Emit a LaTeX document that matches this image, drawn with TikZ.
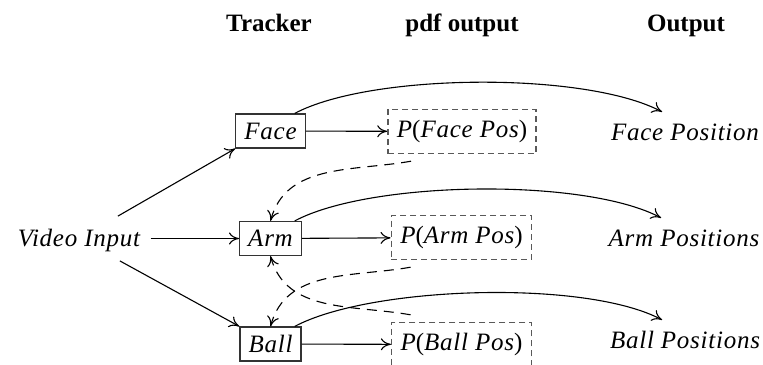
\documentclass[tikz,border=0pt]{standalone}
\usepackage{fontspec}
\setmainfont{Liberation Serif}
\newfontfamily\varfont{Liberation Serif}[LetterSpace=3]
\usetikzlibrary{arrows.meta}

\begin{document}
\begin{tikzpicture}[x=0.5pt,y=0.5pt,
  lbl/.style={font=\fontsize{12.5}{15}\selectfont\varfont\itshape,
    text height=8.2pt, text depth=0pt, inner xsep=4.3pt, inner ysep=4.4pt},
  trk/.style={lbl, draw=black!80, line width=0.6pt},
  pdfbox/.style={lbl, draw=black!65, line width=0.7pt, dash pattern=on 3pt off 2pt,
    text height=8.5pt, text depth=2.5pt, inner ysep=5.5pt, inner xsep=4.5pt},
  outlbl/.style={lbl, inner ysep=6pt},
  hdr/.style={font=\fontsize{12.5}{15}\selectfont\bfseries, anchor=base, inner sep=0pt},
  conn/.style={-{To[length=5pt,width=6pt]}, line width=0.55pt},
  fb/.style={conn, dash pattern=on 5pt off 3.5pt},
]
\clip (0,0) rectangle (763,-364);

% column headings
\node[hdr] (htrk) at (269,-31) {Tracker};
\node[hdr] (hpdf) at (462,-31) {pdf output};
\node[hdr] (hout) at (686,-31) {Output};

% input
\node[lbl, inner xsep=5pt, inner ysep=6.9pt] (vin) at (79,-238.5) {Video Input};

% trackers
\node[trk] (face) at (270.5,-131) {Face};
\node[trk] (arm)  at (270.5,-238.5) {Arm};
\node[trk] (ball) at (270.5,-344) {Ball};

% probability densities
\node[pdfbox] (pface) at (462,-131.5) {P{\upshape(}Face Pos{\upshape)}};
\node[pdfbox] (parm)  at (461.5,-237.5) {P{\upshape(}Arm Pos{\upshape)}};
\node[pdfbox] (pball) at (461.5,-344.5) {P{\upshape(}Ball Pos{\upshape)}};

% outputs
\node[outlbl] (fout) at (685,-132.5) {Face Position};
\node[outlbl] (aout) at (684,-238.5) {Arm Positions};
\node[outlbl] (bout) at (685,-340.5) {Ball Positions};

% input to trackers
\draw[conn] (vin) -- (face.south west);
\draw[conn] (vin) -- (arm);
\draw[conn] (vin) -- (ball.north west);

% trackers to densities
\draw[conn] (face) -- (pface);
\draw[conn] (arm) -- (parm);
\draw[conn] (ball) -- (pball);

% trackers to outputs
\draw[conn] (face.36) to[out=28,in=152,looseness=0.6] (fout.138);
\draw[conn] (arm.36)  to[out=28,in=152,looseness=0.6] (aout.138);
\draw[conn] (ball.36) to[out=28,in=152,looseness=0.6] (bout.138);

% feedback between trackers
\draw[fb] ([xshift=-25.5pt,yshift=-3.5pt]pface.south) to[out=190,in=75] (arm.north);
\draw[fb] ([xshift=-25.5pt,yshift=-3.5pt]parm.south) to[out=190,in=75] (ball.north);
\draw[fb] ([xshift=-25.5pt,yshift=3.5pt]pball.north) to[out=170,in=-75] (arm.south);
\end{tikzpicture}
\end{document}
